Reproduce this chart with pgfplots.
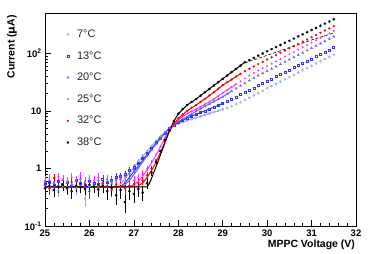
\documentclass[border=0pt]{standalone}
\usepackage{fontspec}
\setmainfont{Liberation Sans}
\usepackage{pgfplots}
\usepackage{pgfplotstable}
\pgfplotsset{compat=1.18}
\definecolor{cA}{RGB}{150,172,228}
\definecolor{cB}{RGB}{50,50,250}
\definecolor{cC}{RGB}{105,105,235}
\definecolor{cD}{RGB}{255,50,255}
\definecolor{cE}{RGB}{255,0,0}
\definecolor{cF}{RGB}{0,0,0}

\pgfplotstableread{
x y e
25.0 0.52 0.10
25.1 0.48 0.10
25.2 0.55 0.11
25.3 0.42 0.10
25.4 0.50 0.10
25.5 0.47 0.10
25.6 0.53 0.11
25.7 0.45 0.10
25.8 0.50 0.10
25.9 0.30 0.09
26.0 0.49 0.10
26.1 0.55 0.11
26.2 0.47 0.10
26.3 0.52 0.10
26.4 0.50 0.10
26.5 0.56 0.11
26.6 0.60 0.11
26.7 0.64 0.11
26.8 0.76 0.12
26.9 0.90 0.12
27.0 1.10 0.10
27.1 1.35 0.10
27.2 1.65 0.10
27.3 2.00 0.10
27.4 2.45 0.10
27.5 3.00 0
27.6 3.60 0
27.7 4.30 0
27.8 5.00 0
27.9 5.55 0
28.0 6.00 0
28.1 6.40 0
28.2 6.80 0
28.3 7.20 0
28.4 7.60 0
28.5 8.00 0
28.6 8.50 0
28.7 9.00 0
28.8 9.50 0
28.9 10.0 0
29.0 10.6 0
29.1 11.3 0
29.2 12.0 0
29.3 13.0 0
29.4 14.1 0
29.5 15.4 0
29.6 16.9 0
29.7 18.5 0
29.8 20.3 0
29.9 22.3 0
30.0 24.5 0
30.1 26.8 0
30.2 29.4 0
30.3 32.1 0
30.4 35.2 0
30.5 38.5 0
30.6 42.1 0
30.7 46.1 0
30.8 50.5 0
30.9 55.3 0
31.0 60.5 0
31.1 66.2 0
31.2 72.5 0
31.3 79.3 0
31.4 86.8 0
31.5 95.0 0
}\tA

\pgfplotstableread{
x y e
25.0 0.55 0.10
25.1 0.58 0.10
25.2 0.50 0.10
25.3 0.60 0.11
25.4 0.52 0.10
25.5 0.57 0.10
25.6 0.49 0.10
25.7 0.62 0.11
25.8 0.55 0.10
25.9 0.51 0.10
26.0 0.60 0.11
26.1 0.56 0.10
26.2 0.53 0.10
26.3 0.66 0.11
26.4 0.58 0.10
26.5 0.62 0.11
26.6 0.70 0.12
26.7 0.72 0.12
26.8 0.80 0.12
26.9 0.92 0.12
27.0 1.05 0.12
27.1 1.25 0.10
27.2 1.50 0.10
27.3 1.85 0.10
27.4 2.25 0.10
27.5 2.80 0
27.6 3.40 0
27.7 4.15 0
27.8 5.00 0
27.9 5.70 0
28.0 6.30 0
28.1 6.90 0
28.2 7.50 0
28.3 8.10 0
28.4 8.70 0
28.5 9.30 0
28.6 10.0 0
28.7 10.8 0
28.8 11.6 0
28.9 12.5 0
29.0 13.4 0
29.1 14.6 0
29.2 16.0 0
29.3 17.5 0
29.4 19.1 0
29.5 20.9 0
29.6 22.8 0
29.7 25.0 0
29.8 27.4 0
29.9 30.0 0
30.0 33.0 0
30.1 36.0 0
30.2 39.4 0
30.3 43.0 0
30.4 47.0 0
30.5 51.5 0
30.6 56.3 0
30.7 61.5 0
30.8 67.0 0
30.9 73.4 0
31.0 80.0 0
31.1 87.5 0
31.2 95.7 0
31.3 104.6 0
31.4 114 0
31.5 125 0
}\tB

\pgfplotstableread{
x y e
25.0 0.58 0.10
25.1 0.62 0.11
25.2 0.55 0.10
25.3 0.50 0.10
25.4 0.63 0.11
25.5 0.57 0.10
25.6 0.52 0.10
25.7 0.60 0.11
25.8 0.66 0.11
25.9 0.55 0.10
26.0 0.58 0.10
26.1 0.50 0.10
26.2 0.62 0.11
26.3 0.56 0.10
26.4 0.60 0.11
26.5 0.54 0.10
26.6 0.63 0.11
26.7 0.66 0.11
26.8 0.72 0.12
26.9 0.82 0.12
27.0 0.95 0.12
27.1 1.10 0.10
27.2 1.35 0.10
27.3 1.70 0.10
27.4 2.10 0.10
27.5 2.65 0
27.6 3.30 0
27.7 4.10 0
27.8 5.00 0
27.9 5.80 0
28.0 6.50 0
28.1 7.20 0
28.2 7.90 0
28.3 8.80 0
28.4 9.80 0
28.5 10.9 0
28.6 12.0 0
28.7 13.2 0
28.8 14.5 0
28.9 16.0 0
29.0 17.5 0
29.1 19.7 0
29.2 22.0 0
29.3 24.5 0
29.4 27.2 0
29.5 30.2 0
29.6 33.5 0
29.7 37.0 0
29.8 41.0 0
29.9 45.0 0
30.0 49.0 0
30.1 53.7 0
30.2 58.9 0
30.3 64.6 0
30.4 70.8 0
30.5 77.6 0
30.6 85.0 0
30.7 93.0 0
30.8 102 0
30.9 112 0
31.0 123 0
31.1 135 0
31.2 148 0
31.3 162 0
31.4 178 0
31.5 195 0
}\tC

\pgfplotstableread{
x y e
25.0 0.62 0.11
25.1 0.68 0.12
25.2 0.58 0.11
25.3 0.72 0.12
25.4 0.65 0.11
25.5 0.60 0.11
25.6 0.70 0.12
25.7 0.64 0.11
25.8 0.75 0.12
25.9 0.59 0.11
26.0 0.66 0.11
26.1 0.62 0.11
26.2 0.70 0.12
26.3 0.57 0.11
26.4 0.65 0.11
26.5 0.60 0.11
26.6 0.55 0.11
26.7 0.63 0.11
26.8 0.58 0.11
26.9 0.56 0.11
27.0 0.62 0.11
27.1 0.70 0.11
27.2 0.82 0.11
27.3 1.00 0.10
27.4 1.30 0.10
27.5 1.75 0
27.6 2.40 0
27.7 3.40 0
27.8 4.60 0
27.9 5.80 0
28.0 7.00 0
28.1 8.00 0
28.2 9.00 0
28.3 9.80 0
28.4 10.7 0
28.5 11.8 0
28.6 13.0 0
28.7 14.4 0
28.8 16.0 0
28.9 18.0 0
29.0 20.5 0
29.1 23.0 0
29.2 26.0 0
29.3 29.0 0
29.4 32.5 0
29.5 36.5 0
29.6 41.0 0
29.7 45.5 0
29.8 50.0 0
29.9 55.0 0
30.0 60.0 0
30.1 66 0
30.2 72 0
30.3 79 0
30.4 87 0
30.5 96 0
30.6 105 0
30.7 115 0
30.8 127 0
30.9 139 0
31.0 153 0
31.1 168 0
31.2 184 0
31.3 202 0
31.4 222 0
31.5 244 0
}\tD

\pgfplotstableread{
x y e
25.0 0.50 0.10
25.1 0.45 0.10
25.2 0.68 0.12
25.3 0.48 0.10
25.4 0.52 0.10
25.5 0.44 0.10
25.6 0.58 0.11
25.7 0.50 0.10
25.8 0.47 0.10
25.9 0.53 0.10
26.0 0.40 0.10
26.1 0.50 0.10
26.2 0.46 0.10
26.3 0.55 0.11
26.4 0.49 0.10
26.5 0.42 0.10
26.6 0.52 0.10
26.7 0.48 0.10
26.8 0.45 0.10
26.9 0.50 0.10
27.0 0.53 0.10
27.1 0.56 0.10
27.2 0.62 0.10
27.3 0.76 0.10
27.4 1.00 0.10
27.5 1.40 0
27.6 2.00 0
27.7 3.00 0
27.8 4.40 0
27.9 5.90 0
28.0 7.40 0
28.1 8.70 0
28.2 10.0 0
28.3 11.3 0
28.4 12.6 0
28.5 14.3 0
28.6 16.2 0
28.7 18.5 0
28.8 21.0 0
28.9 24.3 0
29.0 28.0 0
29.1 31.5 0
29.2 35.0 0
29.3 39.5 0
29.4 44.0 0
29.5 49.0 0
29.6 54.0 0
29.7 59.0 0
29.8 65.0 0
29.9 71.0 0
30.0 78.0 0
30.1 85 0
30.2 93 0
30.3 102 0
30.4 111 0
30.5 122 0
30.6 133 0
30.7 145 0
30.8 159 0
30.9 174 0
31.0 190 0
31.1 207 0
31.2 227 0
31.3 248 0
31.4 270 0
31.5 295 0
}\tE

\pgfplotstableread{
x y e
25.0 0.45 0.10
25.1 0.50 0.10
25.2 0.42 0.10
25.3 0.48 0.10
25.4 0.52 0.11
25.5 0.46 0.10
25.6 0.40 0.10
25.7 0.50 0.11
25.8 0.47 0.10
25.9 0.44 0.10
26.0 0.52 0.11
26.1 0.48 0.11
26.2 0.43 0.11
26.3 0.50 0.12
26.4 0.40 0.12
26.5 0.46 0.12
26.6 0.34 0.11
26.7 0.42 0.12
26.8 0.26 0.09
26.9 0.40 0.12
27.0 0.36 0.11
27.1 0.44 0.12
27.2 0.38 0.11
27.3 0.55 0.11
27.4 0.85 0.11
27.5 1.30 0.10
27.6 2.00 0
27.7 3.10 0
27.8 4.60 0
27.9 6.60 0
28.0 8.90 0
28.1 10.8 0
28.2 12.6 0
28.3 14.3 0
28.4 16.0 0
28.5 18.3 0
28.6 21.0 0
28.7 24.0 0
28.8 27.5 0
28.9 31.5 0
29.0 36.0 0
29.1 41.0 0
29.2 47.0 0
29.3 53.6 0
29.4 61.0 0
29.5 70.0 0
29.6 76 0
29.7 83 0
29.8 91 0
29.9 99 0
30.0 108 0
30.1 118 0
30.2 128 0
30.3 139 0
30.4 152 0
30.5 165 0
30.6 180 0
30.7 196 0
30.8 213 0
30.9 232 0
31.0 253 0
31.1 275 0
31.2 300 0
31.3 327 0
31.4 356 0
31.5 388 0
}\tF

\begin{document}
\begin{tikzpicture}
\begin{axis}[
  scale only axis, width=311bp, height=213bp,
  xmin=25, xmax=32, ymode=log, ymin=0.1, ymax=500,
  xtick={25,26,27,28,29,30,31,32},
  xticklabels={25,26,27,28,29,30,31,32},
  minor x tick num=4,
  ytick={0.1,1,10,100},
  yticklabels={10\textsuperscript{-1},1,10,10\textsuperscript{2}},
  tick align=inside, xtick pos=bottom, ytick pos=left,
  major tick length=6bp, minor tick length=3bp,
  tick style={black, line width=0.5bp},
  axis line style={black, line width=0.8bp},
  ticklabel style={font=\bfseries\fontsize{9.5}{11}\selectfont},
  xlabel={MPPC Voltage (V)},
  ylabel={Current ({\fontspec{DejaVu Sans}\bfseries μ}A)},
  xlabel style={at={(rel axis cs:0.997,-0.066)}, anchor=north east, inner sep=0pt, font=\bfseries\fontsize{10.5}{12}\selectfont},
  ylabel style={at={(rel axis cs:-0.090,0.99)}, anchor=south east, inner sep=0pt, font=\bfseries\fontsize{10.5}{12}\selectfont},
  legend style={draw=none, fill=none, at={(rel axis cs:0.053,0.941)}, anchor=north west,
    font=\fontsize{11}{13}\selectfont, row sep=8.5bp, text=black!85},
  legend cell align=left,
  legend image code/.code={\path (0bp,0bp) (10bp,0bp); \draw[#1] plot coordinates {(3bp,0bp)};},
  error bars/error bar style={line width=0.5bp},
]
\addplot[only marks, mark=o, mark size=1.0bp, cA, mark options={line width=0.6bp},
  error bars/.cd, y dir=both, y explicit, error mark=none] table[x=x,y=y,y error=e]{\tA};
\addlegendentry{7°C}
\addplot[only marks, mark=square, mark size=1.0bp, cB, mark options={line width=0.6bp},
  error bars/.cd, y dir=both, y explicit, error mark=none] table[x=x,y=y,y error=e]{\tB};
\addlegendentry{13°C}
\addplot[only marks, mark=triangle*, mark size=1.25bp, cC,
  error bars/.cd, y dir=both, y explicit, error mark=none] table[x=x,y=y,y error=e]{\tC};
\addlegendentry{20°C}
\addplot[only marks, mark=*, mark size=0.8bp, cD,
  error bars/.cd, y dir=both, y explicit, error mark=none] table[x=x,y=y,y error=e]{\tD};
\addlegendentry{25°C}
\addplot[only marks, mark=*, mark size=0.95bp, cE,
  error bars/.cd, y dir=both, y explicit, error mark=none] table[x=x,y=y,y error=e]{\tE};
\addlegendentry{32°C}
\addplot[only marks, mark=asterisk, mark size=1.3bp, cF, mark options={line width=0.6bp},
  error bars/.cd, y dir=both, y explicit, error mark=none] table[x=x,y=y,y error=e]{\tF};
\addlegendentry{38°C}

\addplot[cA, line width=1bp, forget plot] coordinates {(25,0.48)(26.65,0.48)(26.7,0.53)(26.8,0.66)(26.9,0.83)(27.0,1.04)(27.1,1.3)(27.2,1.62)(27.3,2.0)(27.4,2.45)(27.5,3.0)(27.6,3.6)(27.7,4.3)(27.8,5.0)(27.9,5.55)(28.0,6.0)(28.2,6.8)(28.4,7.6)(28.6,8.5)(28.8,9.5)(29.0,10.6)};
\addplot[cB, line width=1bp, forget plot] coordinates {(25,0.48)(26.7,0.48)(26.8,0.56)(26.9,0.7)(27.0,0.88)(27.1,1.1)(27.2,1.4)(27.3,1.75)(27.4,2.2)(27.5,2.75)(27.6,3.4)(27.7,4.15)(27.8,5.0)(27.9,5.7)(28.0,6.3)(28.2,7.5)(28.4,8.7)(28.6,10.0)(28.8,11.6)(29.0,13.4)};
\addplot[cC, line width=1bp, forget plot] coordinates {(25,0.48)(26.75,0.48)(26.8,0.52)(26.9,0.62)(27.0,0.78)(27.1,1.0)(27.2,1.3)(27.3,1.65)(27.4,2.1)(27.5,2.65)(27.6,3.3)(27.7,4.1)(27.8,5.0)(27.9,5.8)(28.0,6.5)(28.2,7.9)(28.4,9.8)(28.6,12.0)(28.8,14.5)(29.0,17.5)(29.2,22.0)};
\addplot[cD, line width=1bp, forget plot] coordinates {(25,0.48)(26.9,0.48)(27.0,0.52)(27.1,0.6)(27.2,0.74)(27.3,0.95)(27.4,1.25)(27.5,1.7)(27.6,2.4)(27.7,3.4)(27.8,4.6)(27.9,5.8)(28.0,7.0)(28.2,9.0)(28.4,10.7)(28.6,13.0)(28.8,16.0)(29.0,20.5)(29.2,26.0)(29.3,29.0)};
\addplot[cE, line width=1bp, forget plot] coordinates {(25,0.48)(27.05,0.48)(27.1,0.5)(27.2,0.56)(27.3,0.7)(27.4,0.92)(27.5,1.3)(27.6,1.9)(27.7,2.9)(27.8,4.4)(27.9,5.9)(28.0,7.4)(28.2,10.0)(28.4,12.6)(28.6,16.2)(28.8,21.0)(29.0,28.0)(29.2,35.0)(29.4,44.0)};
\addplot[cF, line width=1bp, forget plot] coordinates {(25,0.48)(27.3,0.48)(27.35,0.55)(27.4,0.68)(27.5,1.07)(27.6,1.73)(27.7,2.8)(27.8,4.5)(27.9,6.6)(28.0,8.9)(28.2,12.6)(28.4,16.0)(28.6,21.0)(28.8,27.5)(29.0,36.0)(29.2,47.0)(29.4,61.0)(29.5,70.0)};
\addplot[cF, densely dashed, line width=0.6bp, forget plot] coordinates {(29.5,68)(30,92)(30.5,125)(31,170)(31.5,225)};
\end{axis}
\pgfresetboundingbox
\path[use as bounding box] ([xshift=-45bp,yshift=-27bp]current axis.south west) rectangle ([xshift=18bp,yshift=13bp]current axis.north east);
\end{tikzpicture}
\end{document}
